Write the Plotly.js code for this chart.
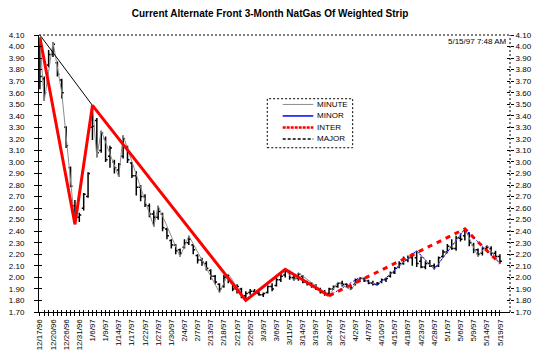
<!DOCTYPE html>
<html><head><meta charset="utf-8">
<script src="https://cdn.plot.ly/plotly-3.0.1.min.js"></script>
<style>html,body{margin:0;padding:0;background:#fff;}#chart{width:538px;height:355px;}</style>
</head><body><div id="chart"></div>
<script>
// Trading days (categories)
const days = ['12/17/96','12/18/96','12/19/96','12/20/96','12/23/96','12/24/96','12/26/96','12/27/96','12/30/96','12/31/96',
'1/2/97','1/3/97','1/6/97','1/7/97','1/8/97','1/9/97','1/10/97','1/13/97','1/14/97','1/15/97','1/16/97','1/17/97','1/20/97','1/21/97','1/22/97','1/23/97','1/24/97','1/27/97','1/28/97','1/29/97','1/30/97','1/31/97',
'2/3/97','2/4/97','2/5/97','2/6/97','2/7/97','2/10/97','2/11/97','2/13/97','2/14/97','2/17/97','2/18/97','2/19/97','2/20/97','2/21/97','2/24/97','2/25/97','2/26/97','2/27/97','2/28/97',
'3/3/97','3/4/97','3/5/97','3/6/97','3/7/97','3/10/97','3/11/97','3/12/97','3/13/97','3/14/97','3/17/97','3/18/97','3/19/97','3/20/97','3/21/97','3/24/97','3/25/97','3/26/97','3/27/97','3/31/97',
'4/1/97','4/2/97','4/3/97','4/4/97','4/7/97','4/8/97','4/9/97','4/10/97','4/11/97','4/14/97','4/15/97','4/16/97','4/17/97','4/18/97','4/21/97','4/22/97','4/23/97','4/24/97','4/25/97','4/28/97','4/29/97','4/30/97',
'5/1/97','5/2/97','5/5/97','5/6/97','5/7/97','5/8/97','5/9/97','5/12/97','5/13/97','5/14/97','5/15/97','5/16/97','5/19/97'];

// Labelled ticks
const labelDays = ['12/17/96','12/20/96','12/26/96','12/31/96','1/6/97','1/9/97','1/14/97','1/17/97','1/22/97','1/27/97','1/30/97','2/4/97','2/7/97','2/13/97','2/18/97','2/21/97','2/26/97','3/3/97','3/6/97','3/11/97','3/14/97','3/19/97','3/24/97','3/27/97','4/2/97','4/7/97','4/10/97','4/15/97','4/18/97','4/23/97','4/28/97','5/1/97','5/6/97','5/9/97','5/14/97','5/19/97'];

// Daily bars
const openP = [4.00,3.72,3.84,3.93,3.86,3.71,3.30,2.95,2.62,2.52,
2.60,2.70,3.30,3.36,3.10,3.20,3.05,3.00,2.93,3.05,
3.12,2.99,2.88,2.78,2.70,2.62,2.55,2.52,2.55,2.42,
2.32,2.28,2.24,2.26,2.30,2.28,2.19,2.15,2.12,2.06,
2.01,1.94,1.92,2.00,1.95,1.90,1.90,1.84,1.87,1.88,
1.86,1.85,1.87,1.92,1.93,1.98,2.02,2.04,2.00,1.99,
2.01,1.96,1.95,1.92,1.90,1.87,1.86,1.90,1.92,1.95,
1.94,1.92,1.94,1.98,1.99,1.97,1.95,1.94,1.96,1.98,
2.01,2.04,2.09,2.12,2.15,2.17,2.17,2.14,2.09,2.12,
2.10,2.10,2.18,2.22,2.26,2.25,2.34,2.36,2.38,2.28,
2.24,2.21,2.25,2.25,2.21,2.18];
const highP = [4.06,3.74,3.97,4.04,3.87,3.72,3.31,2.96,2.67,2.56,
2.73,2.91,3.49,3.38,3.27,3.22,3.14,3.02,2.99,3.23,
3.14,3.00,2.92,2.80,2.72,2.64,2.58,2.62,2.56,2.43,
2.33,2.29,2.25,2.33,2.36,2.29,2.20,2.17,2.14,2.07,
2.02,1.95,2.02,2.03,1.96,1.94,1.91,1.88,1.90,1.90,
1.88,1.87,1.93,1.95,2.00,2.03,2.07,2.06,2.02,2.04,
2.02,1.97,1.96,1.94,1.91,1.89,1.91,1.93,1.96,1.97,
1.95,1.93,1.99,2.00,2.00,1.98,1.97,1.96,1.99,2.00,
2.05,2.09,2.14,2.18,2.19,2.21,2.23,2.18,2.14,2.15,
2.12,2.18,2.24,2.29,2.33,2.36,2.38,2.42,2.39,2.30,
2.25,2.26,2.28,2.27,2.23,2.20];
const lowP = [3.63,3.53,3.82,3.91,3.74,3.55,3.12,2.78,2.46,2.48,
2.58,2.69,3.19,3.04,3.08,3.00,2.95,2.90,2.87,3.03,
2.99,2.86,2.71,2.66,2.61,2.52,2.44,2.50,2.40,2.33,
2.25,2.20,2.18,2.25,2.28,2.20,2.12,2.10,2.06,1.98,
1.94,1.87,1.91,1.95,1.88,1.86,1.82,1.80,1.85,1.86,
1.84,1.83,1.86,1.88,1.92,1.96,2.00,1.98,1.97,1.97,
1.95,1.93,1.91,1.89,1.86,1.84,1.84,1.89,1.91,1.92,
1.91,1.89,1.93,1.96,1.96,1.94,1.93,1.93,1.95,1.96,
2.00,2.03,2.08,2.11,2.13,2.10,2.09,2.08,2.07,2.09,
2.07,2.09,2.17,2.21,2.24,2.23,2.31,2.32,2.27,2.21,
2.18,2.19,2.22,2.19,2.16,2.12];
const closeP = [3.74,3.60,3.93,4.02,3.76,3.60,3.14,2.79,2.50,2.54,
2.72,2.90,3.31,3.08,3.25,3.02,3.12,2.95,2.98,3.20,
3.02,2.88,2.78,2.70,2.63,2.55,2.52,2.57,2.43,2.36,
2.28,2.23,2.21,2.30,2.33,2.24,2.15,2.13,2.08,2.01,
1.96,1.90,2.00,1.97,1.90,1.92,1.84,1.86,1.88,1.87,
1.85,1.86,1.92,1.90,1.98,2.01,2.05,2.00,1.99,2.03,
1.96,1.95,1.92,1.90,1.87,1.86,1.90,1.92,1.95,1.94,
1.92,1.91,1.98,1.99,1.97,1.95,1.94,1.95,1.98,1.99,
2.04,2.08,2.12,2.16,2.17,2.19,2.12,2.09,2.12,2.10,
2.09,2.17,2.22,2.27,2.25,2.34,2.33,2.40,2.30,2.24,
2.20,2.25,2.26,2.21,2.18,2.14];

// Wave lines
const minuteDates = ['12/17/96','12/18/96','12/20/96','12/24/96','12/30/96','1/6/97','1/7/97','1/8/97','1/14/97','1/15/97','1/24/97','1/27/97','2/3/97','2/5/97','2/17/97','2/19/97','2/25/97','3/10/97','3/12/97','3/13/97','3/24/97','3/26/97','4/1/97','4/3/97','4/9/97','4/22/97','4/28/97','5/7/97','5/12/97','5/14/97','5/19/97'];
const minuteVals  = [4.06,3.53,4.04,3.60,2.46,3.49,3.04,3.27,2.87,3.23,2.44,2.62,2.18,2.36,1.87,2.03,1.80,2.07,1.97,2.04,1.84,1.96,1.89,2.00,1.93,2.23,2.07,2.42,2.18,2.28,2.12];
const minorDates = ['3/24/97','4/3/97','4/9/97','4/22/97','4/28/97','5/7/97','5/19/97'];
const minorVals  = [1.84,2.00,1.93,2.23,2.07,2.42,2.12];
const interDates = ['12/17/96','12/30/96','1/6/97','2/25/97','3/10/97','3/24/97'];
const interVals  = [4.08,2.46,3.49,1.80,2.07,1.84];
const interNowDates = ['3/24/97','5/7/97','5/19/97'];
const interNowVals  = [1.84,2.42,2.12];
const majorDates = ['12/17/96','1/6/97','2/25/97'];
const majorVals  = [4.10,3.49,1.80];

const legendNames = ['MINUTE','MINOR','INTER','MAJOR'];
const titleText = 'Current Alternate Front 3-Month NatGas Of Weighted Strip';
const stampText = '5/15/97 7:48 AM';

const FONT = 'Liberation Sans, Arial, sans-serif';
const tickText = days.map(d => labelDays.includes(d) ? d : '');
const skip = {showlegend:false, hoverinfo:'skip'};

const traces = [
  Object.assign({type:'scatter', mode:'lines', x:minuteDates, y:minuteVals, line:{color:'#8c8c8c', width:1}}, skip),
  Object.assign({type:'ohlc', x:days, open:openP, high:highP, low:lowP, close:closeP, tickwidth:0.45,
   increasing:{line:{color:'#000', width:1.5}}, decreasing:{line:{color:'#000', width:1.5}}}, skip),
  Object.assign({type:'scatter', mode:'lines', x:majorDates, y:majorVals, line:{color:'#000', width:1}}, skip),
  Object.assign({type:'scatter', mode:'lines', x:interDates, y:interVals, line:{color:'#ff0000', width:3}}, skip),
  Object.assign({type:'scatter', mode:'lines', x:minorDates, y:minorVals, line:{color:'#0000ff', width:1, dash:'2px,2px'}}, skip),
  Object.assign({type:'scatter', mode:'lines', x:interNowDates, y:interNowVals, line:{color:'#ff0000', width:3, dash:'5px,5px'}}, skip),
  Object.assign({type:'scatter', mode:'lines', x:[days[0]], y:[null], yaxis:'y2'}, skip),
  Object.assign({type:'scatter', mode:'lines', x:[days[0]], y:[null], yaxis:'y3'}, skip),
  Object.assign({type:'scatter', mode:'lines', x:[days[0]], y:[null], yaxis:'y4'}, skip),
  Object.assign({type:'scatter', mode:'lines', x:[days[0]], y:[null], xaxis:'x2'}, skip)
];

// manual legend (paper coords)
const L = {x0:0.4847, x1:0.666, y0:0.593, y1:0.770, lx0:0.5174, lx1:0.5824, tx:0.585, rows:[0.7493,0.7078,0.6663,0.6248]};
const legStyles = [
  {color:'#8c8c8c', width:1, dash:'solid'},
  {color:'#0000ff', width:1.5, dash:'solid'},
  {color:'#ff0000', width:2.5, dash:'3px,1px'},
  {color:'#000', width:1.5, dash:'3px,2px'}
];
const shapes = [
  {type:'line', xref:'paper', yref:'paper', x0:0, x1:1, y0:1, y1:1, line:{color:'#000', width:1, dash:'2px,2px'}},
  {type:'line', xref:'paper', yref:'paper', x0:1, x1:1, y0:0, y1:1, line:{color:'#000', width:1, dash:'2px,2px'}},
  {type:'rect', xref:'paper', yref:'paper', x0:L.x0, x1:L.x1, y0:L.y0, y1:L.y1, fillcolor:'#fff', line:{color:'#000', width:1, dash:'2px,2px'}, layer:'above'}
];
const annotations = [
  {text:stampText, xref:'paper', yref:'paper', x:0.998, y:0.978, xanchor:'right', yanchor:'middle', showarrow:false, font:{family:FONT, size:8, color:'#000'}}
];
legendNames.forEach((n,k) => {
  shapes.push({type:'line', xref:'paper', yref:'paper', x0:L.lx0, x1:L.lx1, y0:L.rows[k], y1:L.rows[k], line:legStyles[k], layer:'above'});
  annotations.push({text:n, xref:'paper', yref:'paper', x:L.tx, y:L.rows[k], xanchor:'left', yanchor:'middle', showarrow:false, font:{family:FONT, size:8, color:'#000'}});
});

const yBase = {range:[1.70, 4.10], dtick:0.1, tick0:1.7, tickformat:'.2f', tickcolor:'#000', showgrid:false, zeroline:false, tickfont:{family:FONT, size:8}};
const layout = {
  width:538, height:355,
  margin:{l:39, r:28, t:34.5, b:43.3},
  paper_bgcolor:'#fff', plot_bgcolor:'#fff',
  font:{family:FONT, size:8, color:'#000'},
  title:{text:'<b>'+titleText+'</b>', x:0.502, xref:'container', xanchor:'center', y:0.962, yref:'container', yanchor:'middle', font:{family:FONT, size:10, color:'#000'}},
  showlegend:false,
  xaxis:{type:'category', categoryorder:'array', categoryarray:days, range:[-0.2, 107.3],
    tickmode:'array', tickvals:days, ticktext:tickText, tickangle:-90,
    ticks:'outside', ticklen:3, tickcolor:'#000', showline:true, linecolor:'#000', linewidth:1,
    showgrid:false, zeroline:false, rangeslider:{visible:false}, tickfont:{family:FONT, size:8}},
  xaxis2:{type:'category', overlaying:'x', categoryorder:'array', categoryarray:days, range:[-0.2, 107.3],
    tickmode:'array', tickvals:days, showticklabels:false, side:'bottom',
    ticks:'inside', ticklen:2, tickcolor:'#000', showline:false, showgrid:false, zeroline:false},
  yaxis:Object.assign({}, yBase, {ticks:'outside', ticklen:4, showline:true, linecolor:'#000', linewidth:1, ticklabelstandoff:8}),
  yaxis2:Object.assign({}, yBase, {overlaying:'y', side:'right', ticks:'outside', ticklen:3, showline:false}),
  yaxis3:Object.assign({}, yBase, {overlaying:'y', side:'left', ticks:'inside', ticklen:3, showline:false, showticklabels:false}),
  yaxis4:Object.assign({}, yBase, {overlaying:'y', side:'right', ticks:'inside', ticklen:3, showline:false, showticklabels:false}),
  shapes:shapes, annotations:annotations
};
Plotly.newPlot('chart', traces, layout, {staticPlot:true, displayModeBar:false});
</script></body></html>
